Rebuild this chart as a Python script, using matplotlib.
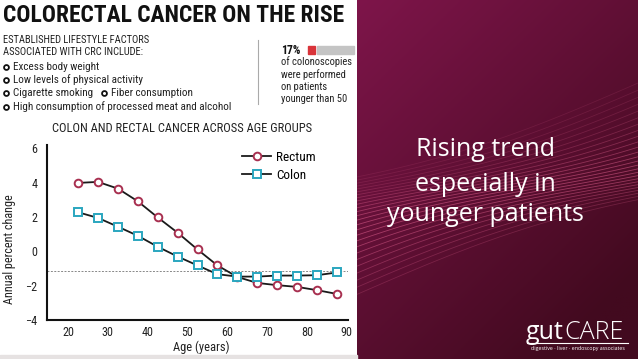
import numpy as np
import matplotlib
matplotlib.use("Agg")
import matplotlib.pyplot as plt
from matplotlib import font_manager

# data
ages = [22.5, 27.5, 32.5, 37.5, 42.5, 47.5, 52.5, 57.5, 62.5, 67.5, 72.5, 77.5, 82.5, 87.5]
rectum = [3.99, 4.05, 3.66, 2.92, 1.98, 1.09, 0.11, -0.82, -1.49, -1.84, -1.97, -2.07, -2.26, -2.48]
colon = [2.28, 1.95, 1.44, 0.91, 0.27, -0.30, -0.82, -1.33, -1.47, -1.47, -1.41, -1.41, -1.39, -1.23]
ref_level = -1.15
x_ticks = [20, 30, 40, 50, 60, 70, 80, 90]
y_ticks = [-4, -2, 0, 2, 4, 6]
factors = ["Excess body weight", "Low levels of physical activity", "Cigarette smoking",
           "High consumption of processed meat and alcohol"]
side_lines = ["of colonoscopies", "were performed", "on patients", "younger than 50"]
slide_lines = ["Rising trend", "especially in", "younger patients"]

names = {f.name for f in font_manager.fontManager.ttflist}
narrow = "Roboto"
for cand in ["Roboto Condensed", "Liberation Sans Narrow", "Open Sans Condensed"]:
    if cand in names:
        narrow = cand
        break
plt.rcParams["font.family"] = [narrow, "DejaVu Sans"]
slide_font = ["Open Sans", "Lato", "DejaVu Sans"]

W, H = 638, 359
fig = plt.figure(figsize=(W / 100, H / 100), dpi=100)
fig.patch.set_facecolor("white")

def fx(px):
    return px / W

def fy(py):
    return 1 - py / H

# ---- right maroon panel ----
bg = fig.add_axes([fx(357), 0, 1 - fx(357), 1])
gx, gy = np.meshgrid(np.linspace(0, 1, 200), np.linspace(0, 1, 200))
t = np.clip(0.5 * gx + 0.65 * gy, 0, 1)
c0 = np.array([0x7e, 0x15, 0x4a]) / 255
c1 = np.array([0x42, 0x0a, 0x1f]) / 255
img = c0[None, None, :] * (1 - t[..., None]) + c1[None, None, :] * t[..., None]
bg.imshow(img, extent=[0, 1, 0, 1], aspect="auto", origin="upper")
xs = np.linspace(0, 1, 60)
for k in range(26):
    y0 = 0.18 + k * 0.014
    ys = y0 + 0.24 * xs + 0.04 * np.sin(xs * 2.5 + k * 0.15)
    a = 0.4 * np.exp(-((k - 10) / 9.0) ** 2) + 0.1
    bg.plot(xs, ys, color="#f06a9a", lw=0.6, alpha=a)
bg.set_xlim(0, 1)
bg.set_ylim(0, 1)
bg.axis("off")

for s, py in zip(slide_lines, [156, 191, 221]):
    fig.text(fx(485), fy(py), s, color="white", fontsize=18,
             family=slide_font, ha="center", va="baseline")

gut = fig.text(fx(526), fy(339), "gut", color="white", fontsize=18, family=slide_font,
               ha="left", va="baseline")
fig.canvas.draw()
gut_end = gut.get_window_extent().x1
fig.text(gut_end / W + fx(0.5), fy(339), "CARE", color="white", fontsize=18, family=slide_font,
         fontweight="light", ha="left", va="baseline")
fig.add_artist(plt.Line2D([fx(527), fx(628)], [fy(343), fy(343)], color="white", lw=0.8))
fig.text(fx(578), fy(348.5), "digestive \u00b7 liver \u00b7 endoscopy associates", color="white",
         fontsize=3.8, family=slide_font, ha="center", va="center")

# ---- left infographic ----
fig.text(fx(3), fy(15), "COLORECTAL CANCER ON THE RISE", fontsize=16.9, fontweight="bold",
         ha="left", va="center", color="#111111")
fig.text(fx(3), fy(40), "ESTABLISHED LIFESTYLE FACTORS", fontsize=7.6, ha="left", va="center", color="#222222")
fig.text(fx(3), fy(52), "ASSOCIATED WITH CRC INCLUDE:", fontsize=7.6, ha="left", va="center", color="#222222")
rows = [67, 80, 93, 107]
for s, py in zip(factors, rows):
    fig.add_artist(plt.Line2D([fx(6)], [fy(py)], marker="o", ms=3.5, mfc="white", mec="#111111", mew=1.3))
    fig.text(fx(12.5), fy(py), s, fontsize=8.0, ha="left", va="center", color="#222222")
fig.add_artist(plt.Line2D([fx(104)], [fy(93)], marker="o", ms=3.5, mfc="white", mec="#111111", mew=1.3))
fig.text(fx(111), fy(93), "Fiber consumption", fontsize=8.0, ha="left", va="center", color="#222222")

fig.add_artist(plt.Line2D([fx(258), fx(258)], [fy(40), fy(104)], color="#aaaaaa", lw=0.8))
fig.text(fx(281), fy(51), "17%", fontsize=8.5, fontweight="bold", ha="left", va="center", color="#111111")
fig.add_artist(plt.Rectangle((fx(308), fy(54)), fx(7), 8 / H, color="#d9343a"))
fig.add_artist(plt.Rectangle((fx(317), fy(54)), fx(37), 8 / H, color="#c4c4c4"))
for i, s in enumerate(side_lines):
    fig.text(fx(281), fy(62 + i * 12.3), s, fontsize=7.6, ha="left", va="center", color="#222222")

fig.text(fx(182), fy(129), "COLON AND RECTAL CANCER ACROSS AGE GROUPS", fontsize=9,
         ha="center", va="center", color="#222222")

ax = fig.add_axes([fx(47), fy(320), fx(301), (320 - 145) / H])
ax.set_xlim(14.7, 90.3)
ax.set_ylim(-4, 6.2)
ax.axhline(ref_level, color="#888888", lw=0.7, ls=(0, (2, 1.5)))
ax.plot(ages, rectum, color="#1a1a1a", lw=1.3, marker="o", ms=5.5, mfc="white",
        mec="#a83050", mew=1.4, label="Rectum", zorder=3)
ax.plot(ages, colon, color="#1a1a1a", lw=1.3, marker="s", ms=5.3, mfc="white",
        mec="#2aa6bf", mew=1.4, label="Colon", zorder=3)
ax.set_xticks(x_ticks)
ax.set_yticks(y_ticks)
ax.tick_params(length=0, labelsize=8.7, colors="#222222", pad=7)
ax.tick_params(axis="x", pad=4)
for side in ["top", "right"]:
    ax.spines[side].set_visible(False)
for side in ["left", "bottom"]:
    ax.spines[side].set_linewidth(1.5)
    ax.spines[side].set_color("#111111")
ax.patch.set_alpha(0)
ax.set_xlabel("Age (years)", fontsize=9, color="#222222")
ax.set_ylabel("Annual percent change", fontsize=8.7, color="#222222")
ax.xaxis.set_label_coords((201 - 47) / 301, -(341 - 320) / 175)
ax.yaxis.set_label_coords(-(47 - 16) / 301, (320 - 249) / 175)
ax.legend(loc="upper left", bbox_to_anchor=(fx(242), fy(151)), bbox_transform=fig.transFigure,
          frameon=False, fontsize=9.5, handlelength=2.2, handletextpad=0.4, labelspacing=0.35,
          borderaxespad=0, borderpad=0)

# thin gray strip at the bottom of the white panel
fig.add_artist(plt.Rectangle((0, 0), fx(357), 4 / H, color="#e6e2e2"))

fig.savefig("out.png", dpi=100)
